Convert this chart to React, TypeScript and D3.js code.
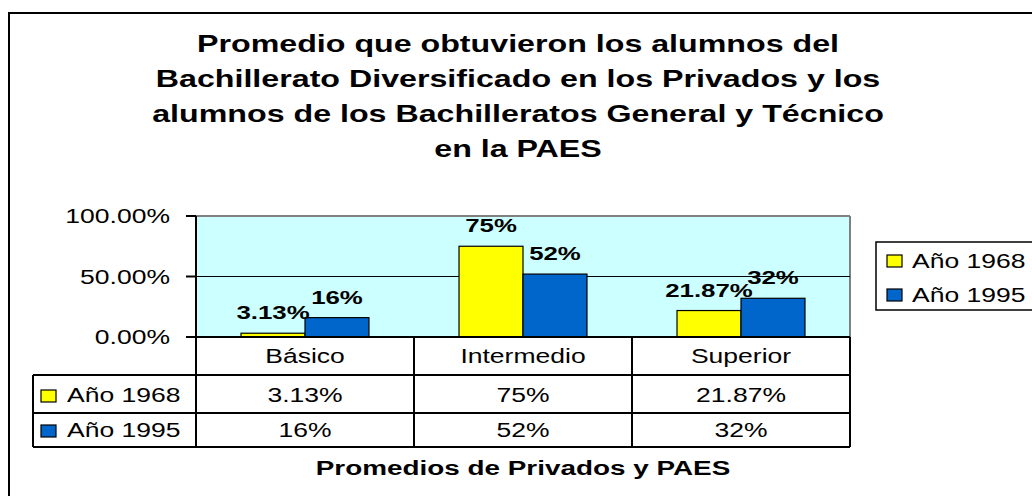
import React from "react";
import * as d3 from "d3";

const categories = ["Básico", "Intermedio", "Superior"];
const seriesNames = ["Año 1968", "Año 1995"];
const values1968 = [0.0313, 0.75, 0.2187];
const values1995 = [0.16, 0.52, 0.32];
const labels1968 = ["3.13%", "75%", "21.87%"];
const labels1995 = ["16%", "52%", "32%"];
const yTicks = [0, 0.5, 1];
const yTickLabels = ["0.00%", "50.00%", "100.00%"];
const titleLines = [
  "Promedio que obtuvieron los alumnos del",
  "Bachillerato Diversificado en los Privados y los",
  "alumnos de los Bachilleratos General y Técnico",
  "en la PAES",
];
const xAxisTitle = "Promedios de Privados y PAES";

const seriesColors = ["#FFFF00", "#0066CC"];
const FONT = "Arial, 'Liberation Sans', sans-serif";

function T({ x, y, anchor = "middle", size = 19.5, weight = "normal", sx = 1.36, children }: any) {
  return (
    <text
      transform={`translate(${x},${y}) scale(${sx},1)`}
      textAnchor={anchor}
      fontSize={size}
      fontWeight={weight}
      fontFamily={FONT}
      fill="#000"
    >
      {children}
    </text>
  );
}

export default function App() {
  const W = 1032;
  const H = 496;
  const plotL = 196;
  const plotR = 850;
  const plotT = 216;
  const plotB = 337;

  const x = d3.scaleBand<string>().domain(categories).range([plotL, plotR]).padding(0);
  const bw = x.bandwidth();
  const groupW = bw * 0.587;
  const inner = d3.scaleBand<string>().domain(seriesNames).range([0, groupW]).padding(0);
  const y = d3.scaleLinear().domain([0, 1]).range([plotB, plotT]);

  const seriesValues = [values1968, values1995];
  const seriesLabels = [labels1968, labels1995];

  const tableLeft = 33;
  const rowTops = [375, 413, 447];
  const rowBaselines = [402, 437];

  return (
    <svg
      width={W}
      height={H}
      style={{ position: "absolute", left: 0, top: 0, display: "block" }}
    >
      <rect x={0} y={0} width={W} height={H} fill="#fff" />
      {/* chart border */}
      <rect x={9} y={13} width={1200} height={700} fill="none" stroke="#000" strokeWidth={2} />

      {/* title */}
      {titleLines.map((l, i) => (
        <T key={i} x={518} y={52 + i * 35} size={23} sx={1.4} weight="bold">
          {l}
        </T>
      ))}

      {/* plot area */}
      <rect x={plotL} y={plotT} width={plotR - plotL} height={plotB - plotT} fill="#CCFFFF" />
      <line x1={plotL} x2={plotR} y1={plotT} y2={plotT} stroke="#808080" strokeWidth={2} />
      <line x1={plotR} x2={plotR} y1={plotT} y2={plotB} stroke="#808080" strokeWidth={2} />
      {yTicks.filter((t) => t > 0 && t < 1).map((t) => (
        <line key={t} x1={plotL} x2={plotR} y1={y(t)} y2={y(t)} stroke="#000" strokeWidth={1} />
      ))}

      {/* bars */}
      {categories.map((c, ci) =>
        seriesNames.map((s, si) => {
          const bx = (x(c) as number) + (bw - groupW) / 2 + (inner(s) as number);
          const v = seriesValues[si][ci];
          return (
            <rect
              key={c + s}
              x={bx}
              y={y(v)}
              width={inner.bandwidth()}
              height={plotB - y(v)}
              fill={seriesColors[si]}
              stroke="#000"
              strokeWidth={1.2}
            />
          );
        })
      )}

      {/* data labels */}
      {categories.map((c, ci) =>
        seriesNames.map((s, si) => {
          const bx = (x(c) as number) + (bw - groupW) / 2 + (inner(s) as number) + inner.bandwidth() / 2;
          const v = seriesValues[si][ci];
          return (
            <T key={"l" + c + s} x={bx} y={y(v) - 14} size={19} weight="bold">
              {seriesLabels[si][ci]}
            </T>
          );
        })
      )}

      {/* y axis */}
      <line x1={plotL} x2={plotL} y1={plotT} y2={plotB} stroke="#000" strokeWidth={2} />
      {yTicks.map((t, i) => (
        <g key={t}>
          <line x1={plotL - 10} x2={plotL} y1={y(t)} y2={y(t)} stroke="#000" strokeWidth={2} />
          <T x={170} y={y(t) + 7} anchor="end">
            {yTickLabels[i]}
          </T>
        </g>
      ))}

      {/* data table */}
      <line x1={plotL} x2={plotR} y1={plotB} y2={plotB} stroke="#000" strokeWidth={2} />
      {rowTops.map((ry) => (
        <line key={ry} x1={tableLeft} x2={plotR} y1={ry} y2={ry} stroke="#000" strokeWidth={2} />
      ))}
      <line x1={tableLeft} x2={tableLeft} y1={rowTops[0]} y2={rowTops[2]} stroke="#000" strokeWidth={2} />
      {[...categories.map((c) => x(c) as number), plotR].map((vx) => (
        <line key={vx} x1={vx} x2={vx} y1={plotB} y2={rowTops[2]} stroke="#000" strokeWidth={2} />
      ))}
      {categories.map((c) => (
        <T key={"h" + c} x={(x(c) as number) + bw / 2} y={363}>
          {c}
        </T>
      ))}
      {seriesNames.map((s, si) => (
        <g key={"row" + s}>
          <rect
            x={41}
            y={rowBaselines[si] - 12}
            width={15}
            height={12}
            fill={seriesColors[si]}
            stroke="#000"
            strokeWidth={1.2}
          />
          <T x={67} y={rowBaselines[si]} anchor="start">
            {s}
          </T>
          {categories.map((c, ci) => (
            <T key={c} x={(x(c) as number) + bw / 2} y={rowBaselines[si]}>
              {seriesLabels[si][ci]}
            </T>
          ))}
        </g>
      ))}

      {/* axis title */}
      <T x={523} y={475} size={20.5} weight="bold">
        {xAxisTitle}
      </T>

      {/* legend */}
      <rect x={876} y={242} width={200} height={68} fill="#fff" stroke="#000" strokeWidth={1.5} />
      {seriesNames.map((s, si) => (
        <g key={"lg" + s}>
          <rect
            x={887}
            y={255 + si * 34}
            width={15}
            height={12}
            fill={seriesColors[si]}
            stroke="#000"
            strokeWidth={1.2}
          />
          <T x={912} y={268 + si * 34} anchor="start">
            {s}
          </T>
        </g>
      ))}
    </svg>
  );
}
